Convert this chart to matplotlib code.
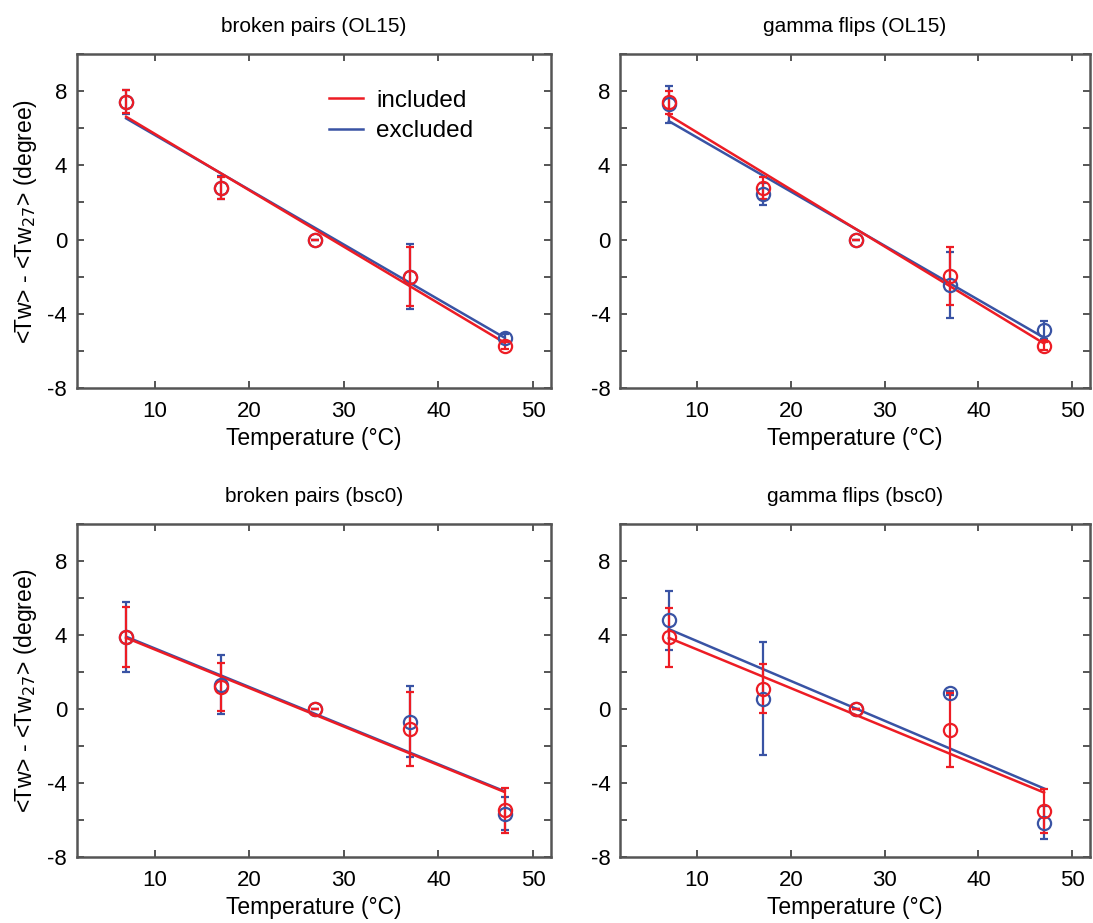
import matplotlib
matplotlib.use("Agg")
import matplotlib.pyplot as plt
import matplotlib.ticker as ticker

plt.rcParams['font.family'] = ['Liberation Sans', 'DejaVu Sans']

RED = '#ED1C24'
BLUE = '#3953A4'
SPINE = '#555555'

temps = [7, 17, 27, 37, 47]
titles = ["broken pairs (OL15)", "gamma flips (OL15)",
          "broken pairs (bsc0)", "gamma flips (bsc0)"]

# included (red) points and error bars, one list per panel
inc_y = [
    [7.42, 2.79, 0.0, -2.0, -5.72],
    [7.39, 2.79, 0.0, -1.97, -5.73],
    [3.89, 1.19, 0.0, -1.11, -5.48],
    [3.86, 1.10, 0.0, -1.15, -5.53],
]
inc_err = [
    [0.62, 0.6, 0.0, 1.6, 0.2],
    [0.6, 0.6, 0.0, 1.55, 0.2],
    [1.6, 1.3, 0.0, 2.0, 1.2],
    [1.6, 1.3, 0.0, 2.0, 1.2],
]
# excluded (blue) points and error bars
exc_y = [
    [7.4, 2.8, 0.0, -2.0, -5.29],
    [7.3, 2.45, 0.0, -2.45, -4.88],
    [3.9, 1.3, 0.0, -0.68, -5.66],
    [4.79, 0.56, 0.0, 0.86, -6.14],
]
exc_err = [
    [0.65, 0.6, 0.0, 1.75, 0.2],
    [1.0, 0.6, 0.0, 1.78, 0.5],
    [1.9, 1.6, 0.0, 1.9, 0.9],
    [1.6, 3.05, 0.0, 0.1, 0.9],
]
# linear fit values at 7 and 47 °C
fit_x = [7, 47]
inc_fit = [[6.62, -5.56], [6.7, -5.6], [3.84, -4.49], [3.84, -4.52]]
exc_fit = [[6.53, -5.29], [6.38, -5.29], [3.9, -4.45], [4.31, -4.3]]

ytick_vals = [-8, -6, -4, -2, 0, 2, 4, 6, 8, 10]
xtick_vals = [10, 20, 30, 40, 50]

fig = plt.figure(figsize=(10.93, 9.23), dpi=100)
boxes = [
    [0.0704, 0.5796, 0.4337, 0.3619],
    [0.5673, 0.5796, 0.4300, 0.3619],
    [0.0704, 0.0715, 0.4337, 0.3610],
    [0.5673, 0.0715, 0.4300, 0.3610],
]

for i, box in enumerate(boxes):
    ax = fig.add_axes(box)
    for ys, errs, fit, col, lab in [(exc_y[i], exc_err[i], exc_fit[i], BLUE, "excluded"),
                                    (inc_y[i], inc_err[i], inc_fit[i], RED, "included")]:
        ax.errorbar(temps, ys, yerr=errs, fmt='o', mfc='none', mec=col, ecolor=col,
                    ms=9.5, mew=1.6, elinewidth=1.6, capsize=3.2, capthick=1.6)
        ax.plot(fit_x, fit, color=col, lw=1.8, label=lab)
    ax.set_xlim(1.8, 51.9)
    ax.set_ylim(-8, 10)
    ax.set_xticks(xtick_vals)
    ax.set_yticks(ytick_vals)
    ax.yaxis.set_major_formatter(
        ticker.FuncFormatter(lambda v, pos: f'{v:.0f}' if v % 4 == 0 and v < 10 else ''))
    ax.tick_params(direction='in', top=True, right=True, length=5, width=1.4,
                   color=SPINE, labelsize=16)
    ax.tick_params(axis='x', pad=9)
    ax.tick_params(axis='y', pad=7)
    for s in ax.spines.values():
        s.set_color(SPINE)
        s.set_linewidth(1.8)
    ax.set_title(titles[i], fontsize=15, pad=16)
    ax.set_xlabel("Temperature (°C)", fontsize=16.5, labelpad=4)
    if i % 2 == 0:
        ax.set_ylabel(r"<Tw> - <Tw$_{27}$> (degree)", fontsize=16.5, labelpad=6)
    if i == 0:
        h, l = ax.get_legend_handles_labels()
        ax.legend(h[::-1], l[::-1], loc='upper left', bbox_to_anchor=(0.485, 0.958),
                  frameon=False, fontsize=17.5, handlelength=1.4, handletextpad=0.55,
                  labelspacing=0.35)

fig.savefig("out.png", dpi=100)
